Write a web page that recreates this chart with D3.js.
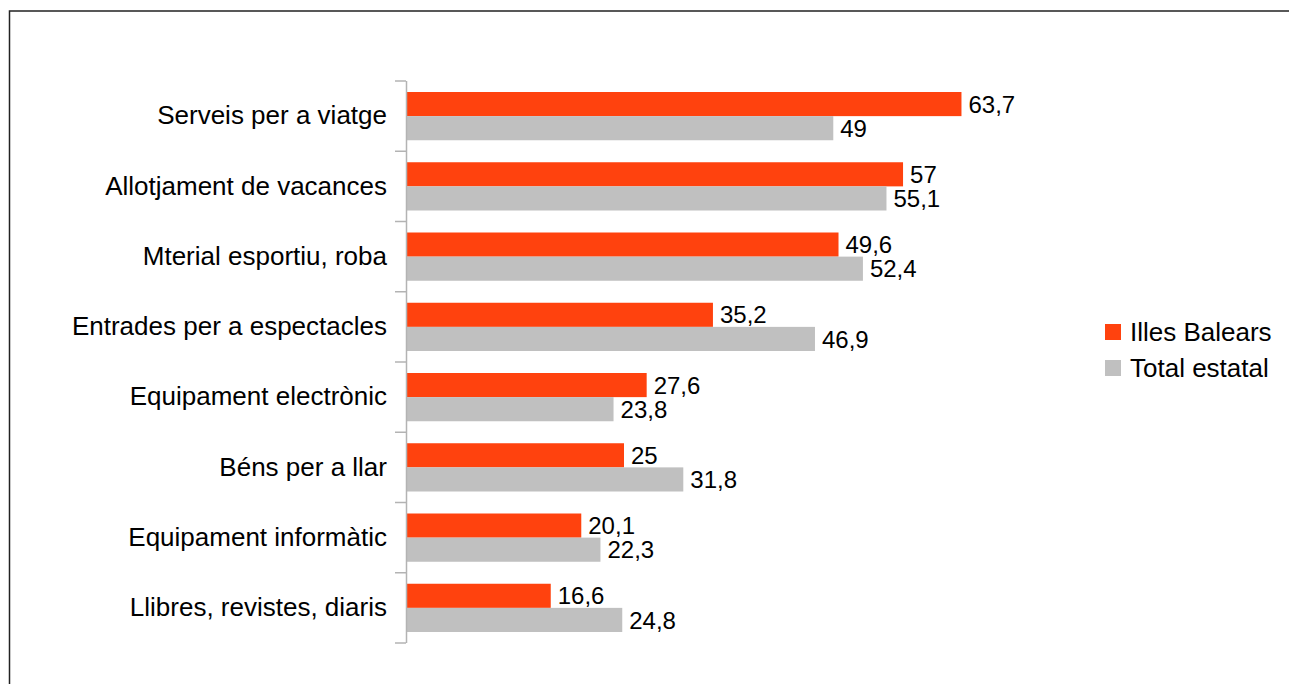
<!DOCTYPE html>
<html><head><meta charset="utf-8">
<script src="https://cdn.jsdelivr.net/npm/d3@7"></script>
<style>body{margin:0;background:#fff;}svg{display:block;font-family:"Liberation Sans",Arial,sans-serif;}</style>
</head><body>
<svg id="c" width="1289" height="684"></svg>
<script>
const categories = ["Serveis per a viatge","Allotjament de vacances","Mterial esportiu, roba","Entrades per a espectacles","Equipament electrònic","Béns per a llar","Equipament informàtic","Llibres, revistes, diaris"];
const seriesNames = ["Illes Balears","Total estatal"];
const illesBalears = [63.7,57,49.6,35.2,27.6,25,20.1,16.6];
const totalEstatal = [49,55.1,52.4,46.9,23.8,31.8,22.3,24.8];
const colors = ["#ff420e","#c0c0c0"];

const svg = d3.select("#c");
svg.append("rect").attr("x",9.5).attr("y",11).attr("width",1290).attr("height",690)
  .attr("fill","none").attr("stroke","#222").attr("stroke-width",1.5);

const x0 = 406, y0 = 81, y1 = 643;
const x = d3.scaleLinear().domain([0,70]).range([x0, x0 + 70*8.72]);
const y = d3.scaleBand().domain(categories).range([y0,y1]).paddingInner(0).paddingOuter(0);
const sub = d3.scaleBand().domain(seriesNames).range([11, y.bandwidth()-11]);

const data = categories.map((c,i)=>({c, v:[illesBalears[i], totalEstatal[i]]}));

const g = svg.append("g");
data.forEach(d=>{
  d.v.forEach((v,j)=>{
    const yy = y(d.c) + sub(seriesNames[j]);
    g.append("rect").attr("x",x(0)).attr("y",yy).attr("width",x(v)-x(0)).attr("height",sub.bandwidth()).attr("fill",colors[j]);
    g.append("text").attr("x",x(v)+7).attr("y",yy+sub.bandwidth()/2).attr("dy","0.36em")
      .attr("font-size",24).attr("fill","#000").text(String(v).replace(".",","));
  });
});

// axis
const axis = d3.axisLeft(y).tickSize(0).tickPadding(19);
const ag = svg.append("g").attr("transform",`translate(${x0},0)`).call(axis);
ag.select(".domain").remove();
ag.selectAll("text").attr("font-size",26).attr("fill","#000").attr("font-family","Liberation Sans, Arial, sans-serif");
svg.append("line").attr("x1",x0+0.5).attr("x2",x0+0.5).attr("y1",y0).attr("y2",y1).attr("stroke","#b3b3b3").attr("stroke-width",1.5);
const tickYs = categories.map(c=>y(c)).concat([y1]);
svg.selectAll(".tk").data(tickYs).enter().append("line")
  .attr("x1",395).attr("x2",x0).attr("y1",d=>d).attr("y2",d=>d).attr("stroke","#b3b3b3").attr("stroke-width",1.5);

// legend
const lg = svg.append("g");
seriesNames.forEach((n,i)=>{
  const ly = 324 + i*36;
  lg.append("rect").attr("x",1105).attr("y",ly).attr("width",16).attr("height",16).attr("fill",colors[i]);
  lg.append("text").attr("x",1130).attr("y",ly+8).attr("dy","0.36em").attr("font-size",26).attr("fill","#000").text(n);
});
</script>
</body></html>
